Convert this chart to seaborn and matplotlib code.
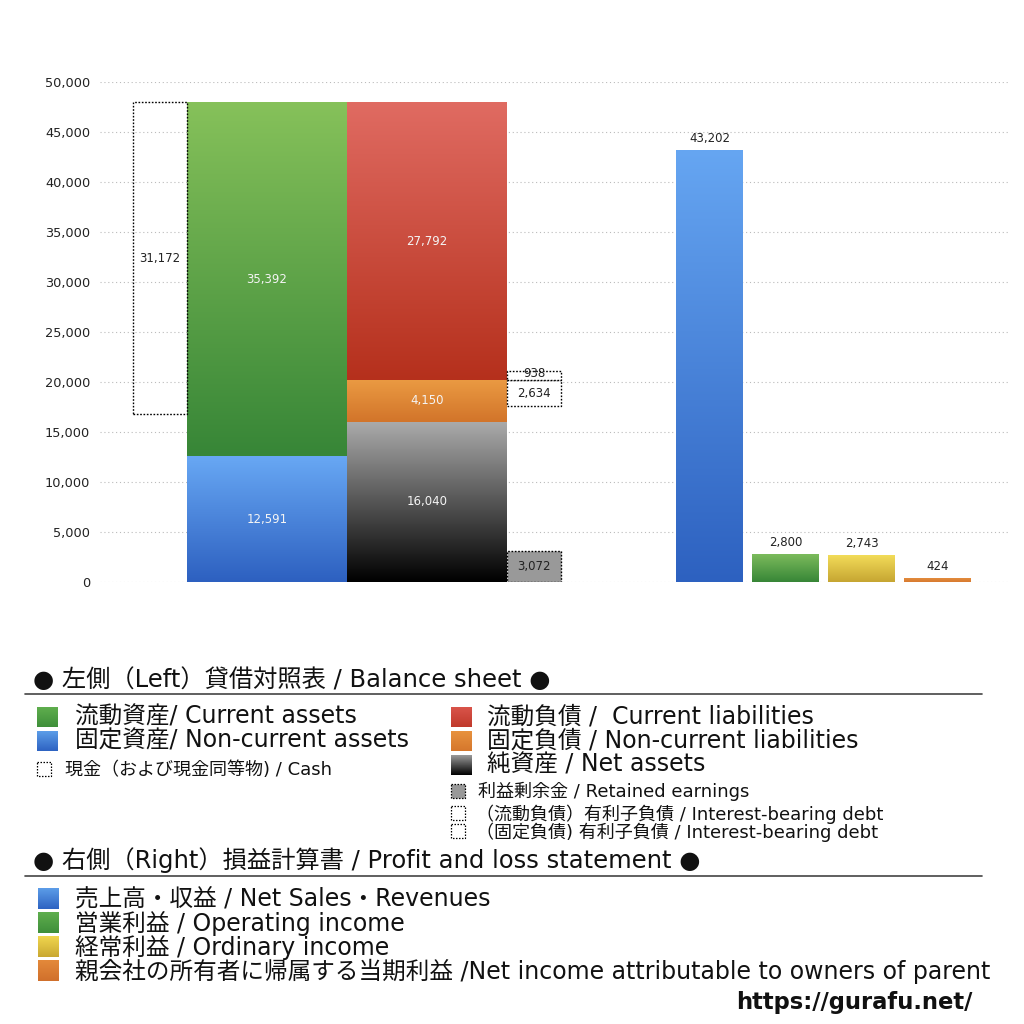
import numpy as np
import matplotlib
matplotlib.use("Agg")
import matplotlib.pyplot as plt
import seaborn as sns
from matplotlib.colors import LinearSegmentedColormap
from matplotlib.ticker import FuncFormatter

# ---------------- data ----------------
current_assets = 35392
noncurrent_assets = 12591
cash = 31172
current_liabilities = 27792
noncurrent_liabilities = 4150
net_assets = 16040
retained_earnings = 3072
ibd_current = 938
ibd_noncurrent = 2634
pl_categories = ["売上高・収益", "営業利益", "経常利益", "親会社株主に帰属する当期純利益"]
pl_values = [43202, 2800, 2743, 424]
y_ticks = [0, 5000, 10000, 15000, 20000, 25000, 30000, 35000, 40000, 45000, 50000]

# ---------------- style ----------------
sns.set_theme(style="white")
plt.rcParams['font.family'] = ['DejaVu Sans', 'Noto Sans CJK JP']

W = 1024.0
fig = plt.figure(figsize=(10.24, 10.24), dpi=100)
fig.patch.set_facecolor("white")

AX_L, AX_R, AX_TOP, AX_BOT = 100, 1010, 82, 582
ax = fig.add_axes([AX_L / W, 1 - AX_BOT / W, (AX_R - AX_L) / W, (AX_BOT - AX_TOP) / W])
ax.set_xlim(0, AX_R - AX_L)
ax.set_ylim(0, 50000)
for s in ax.spines.values():
    s.set_visible(False)
ax.set_yticks(y_ticks)
ax.yaxis.set_major_formatter(FuncFormatter(lambda v, p: f"{int(v):,}"))
ax.tick_params(axis="y", length=0, pad=7, labelsize=9.3, labelcolor="#222222")
ax.set_xticks([])
ax.yaxis.grid(True, linestyle=(0, (1, 2.5)), color="#bbbbbb", linewidth=0.8)
ax.set_axisbelow(True)


def grad_fill(axis, patch, top, bottom):
    x0, y0 = patch.get_x(), patch.get_y()
    w, h = patch.get_width(), patch.get_height()
    cmap = LinearSegmentedColormap.from_list("g", [bottom, top])
    img = axis.imshow(np.linspace(0, 1, 256).reshape(-1, 1),
                      extent=(x0, x0 + w, y0, y0 + h), origin="lower",
                      cmap=cmap, aspect="auto", zorder=2, interpolation="bilinear")
    img.set_clip_path(patch)
    patch.set_facecolor("none")
    patch.set_edgecolor("none")


total_assets = current_assets + noncurrent_assets

# layout (positions in axis units ~ pixels)
CASH_X, CASH_W = 60, 54
ASSET_X, BAR_W = 167, 160
LIAB_X = 327
SMALL_X, SMALL_W = 434, 54

nca = ax.bar(ASSET_X, noncurrent_assets, BAR_W, bottom=0)[0]
ca = ax.bar(ASSET_X, current_assets, BAR_W, bottom=noncurrent_assets)[0]
na = ax.bar(LIAB_X, net_assets, BAR_W, bottom=0)[0]
ncl = ax.bar(LIAB_X, noncurrent_liabilities, BAR_W, bottom=net_assets)[0]
cl = ax.bar(LIAB_X, current_liabilities, BAR_W, bottom=net_assets + noncurrent_liabilities)[0]

grad_fill(ax, nca, "#68a8f4", "#2d60c0")
grad_fill(ax, ca, "#86c15a", "#378637")
grad_fill(ax, na, "#ababab", "#000000")
grad_fill(ax, ncl, "#ea9a42", "#d2742a")
grad_fill(ax, cl, "#e06b62", "#b5301c")

dot = (0, (1.2, 1.2))
ax.bar(CASH_X, cash, CASH_W, bottom=total_assets - cash, fill=False,
       edgecolor="black", linestyle=dot, linewidth=1.0, zorder=3)
ax.bar(SMALL_X, retained_earnings, SMALL_W, bottom=0, facecolor="#999999",
       edgecolor="black", linestyle=dot, linewidth=1.0, zorder=3)
ax.bar(SMALL_X, ibd_noncurrent, SMALL_W, bottom=net_assets + noncurrent_liabilities - ibd_noncurrent,
       facecolor="white", edgecolor="black", linestyle=dot, linewidth=1.0, zorder=3)
ax.bar(SMALL_X, ibd_current, SMALL_W, bottom=net_assets + noncurrent_liabilities,
       facecolor="white", edgecolor="black", linestyle=dot, linewidth=1.0, zorder=3)

lab = dict(ha="center", va="center", fontsize=8.5, zorder=5)
ax.text(ASSET_X, noncurrent_assets + current_assets / 2, f"{current_assets:,}", color="#f4f4f4", **lab)
ax.text(ASSET_X, noncurrent_assets / 2, f"{noncurrent_assets:,}", color="#f4f4f4", **lab)
ax.text(LIAB_X, net_assets + noncurrent_liabilities + current_liabilities / 2, f"{current_liabilities:,}", color="#f4f4f4", **lab)
ax.text(LIAB_X, net_assets + noncurrent_liabilities / 2, f"{noncurrent_liabilities:,}", color="#f4f4f4", **lab)
ax.text(LIAB_X, net_assets / 2, f"{net_assets:,}", color="#f4f4f4", **lab)
ax.text(CASH_X, total_assets - cash / 2, f"{cash:,}", color="#222222", **lab)
ax.text(SMALL_X, retained_earnings / 2, f"{retained_earnings:,}", color="#222222", **lab)
ax.text(SMALL_X, net_assets + noncurrent_liabilities - ibd_noncurrent / 2, f"{ibd_noncurrent:,}", color="#222222", **lab)
ax.text(SMALL_X, net_assets + noncurrent_liabilities + ibd_current / 2 + 150, f"{ibd_current:,}", color="#222222", **lab)

# ---------------- P&L bars (seaborn) ----------------
PL_L, PL_R = 671.5, 975.5
ax2 = fig.add_axes([PL_L / W, 1 - AX_BOT / W, (PL_R - PL_L) / W, (AX_BOT - AX_TOP) / W])
ax2.patch.set_alpha(0)
pl_colors = ["#4a86dc", "#4f9e45", "#e0c443", "#dd8436"]
sns.barplot(x=pl_categories, y=pl_values, hue=pl_categories, palette=pl_colors,
            legend=False, width=0.88, ax=ax2, saturation=1)
ax2.set_ylim(0, 50000)
ax2.set_xlim(-0.5, 3.5)
ax2.axis("off")
pl_grads = [("#66a6f2", "#2d61c0"), ("#7cbb5c", "#378637"),
            ("#f4de5a", "#c6a532"), ("#e59040", "#d87a30")]
for p, (t, b), v in zip(list(ax2.patches), pl_grads, pl_values):
    grad_fill(ax2, p, t, b)
    ax2.text(p.get_x() + p.get_width() / 2, v + 500, f"{v:,}", ha="center", va="bottom",
             fontsize=8.5, color="#222222")
ax2.set_ylim(0, 50000)
ax2.set_xlim(-0.5, 3.5)

# ---------------- legend area ----------------
lax = fig.add_axes([0, 0, 1, 1])
lax.set_xlim(0, W)
lax.set_ylim(W, 0)
lax.axis("off")
lax.patch.set_alpha(0)


def gsq(x, y, w, h, top, bottom):
    cmap = LinearSegmentedColormap.from_list("g", [bottom, top])
    lax.imshow(np.linspace(0, 1, 64).reshape(-1, 1), extent=(x, x + w, y + h, y),
               origin="lower", cmap=cmap, aspect="auto", interpolation="bilinear")


def dsq(x, y, s, face="none"):
    lax.add_patch(plt.Rectangle((x, y), s, s, facecolor=face, edgecolor="black",
                                linestyle=dot, linewidth=0.9))


TXT = "#111111"
HF, IF, SF = 17.5, 17, 13
lax.text(33, 680, "● 左側（Left）貸借対照表 / Balance sheet ●", fontsize=HF, va="center", color=TXT)
lax.plot([25, 982], [694, 694], color="#444444", lw=1.2)

gsq(37, 707, 21, 20, "#5fae4e", "#3f8f3a")
gsq(37, 731, 21, 20, "#5c9de8", "#2e63c2")
lax.text(75, 717, "流動資産/ Current assets", fontsize=IF, va="center", color=TXT)
lax.text(75, 741, "固定資産/ Non-current assets", fontsize=IF, va="center", color=TXT)
dsq(37, 762, 14)
lax.text(65, 770, "現金（および現金同等物) / Cash", fontsize=SF, va="center", color=TXT)

gsq(451, 707, 21, 20, "#d9544a", "#c0392b")
gsq(451, 731, 21, 20, "#e8923e", "#d5772c")
gsq(451, 755, 21, 20, "#9a9a9a", "#000000")
lax.text(487, 717, "流動負債 /  Current liabilities", fontsize=IF, va="center", color=TXT)
lax.text(487, 741, "固定負債 / Non-current liabilities", fontsize=IF, va="center", color=TXT)
lax.text(487, 765, "純資産 / Net assets", fontsize=IF, va="center", color=TXT)
dsq(451, 784, 14, face="#999999")
lax.text(478, 791, "利益剰余金 / Retained earnings", fontsize=SF, va="center", color=TXT)
dsq(451, 806, 14)
dsq(451, 824, 14)
lax.text(476, 814, "（流動負債）有利子負債 / Interest-bearing debt", fontsize=SF, va="center", color=TXT)
lax.text(476, 832, "（固定負債) 有利子負債 / Interest-bearing debt", fontsize=SF, va="center", color=TXT)

lax.text(33, 860, "● 右側（Right）損益計算書 / Profit and loss statement ●", fontsize=HF, va="center", color=TXT)
lax.plot([25, 982], [876, 876], color="#444444", lw=1.2)

gsq(38, 888, 21, 21, "#5c9de8", "#2e63c2")
gsq(38, 912, 21, 21, "#5fae4e", "#3f8f3a")
gsq(38, 936, 21, 21, "#f0d64e", "#c9a832")
gsq(38, 960, 21, 21, "#e4893a", "#d0702c")
lax.text(75, 899, "売上高・収益 / Net Sales・Revenues", fontsize=IF, va="center", color=TXT)
lax.text(75, 923, "営業利益 / Operating income", fontsize=IF, va="center", color=TXT)
lax.text(75, 947, "経常利益 / Ordinary income", fontsize=IF, va="center", color=TXT)
lax.text(75, 971, "親会社の所有者に帰属する当期利益 /Net income attributable to owners of parent",
         fontsize=IF, va="center", color=TXT)

lax.text(972, 1003, "https://gurafu.net/", fontsize=16.3, fontweight="bold", ha="right", va="center", color=TXT)

fig.savefig("out.png", dpi=100, facecolor="white")
